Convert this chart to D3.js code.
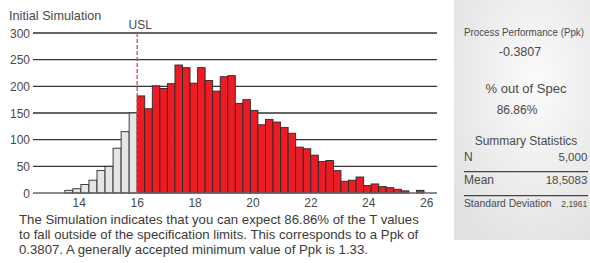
<!DOCTYPE html>
<html>
<head>
<meta charset="utf-8">
<script src="https://cdnjs.cloudflare.com/ajax/libs/d3/7.8.5/d3.min.js"></script>
<style>
  body { margin: 0; background: #fff; }
  svg { display: block; font-family: "Liberation Sans", Arial, sans-serif; }
</style>
</head>
<body>
<svg id="canvas" width="590" height="263"></svg>
<script>

// histogram counts
var lowBinStart = 13.5;      // bins inside spec (below USL)
var lowBinWidth = 2.5 / 9;
var lowCounts = [5, 8, 16, 24, 42, 50, 84, 115, 150];

var highBinStart = 16;       // bins outside spec (above USL)
var highBinWidth = 0.2607;
var highCounts = [182, 158, 201, 196, 205, 240, 235, 206, 235, 211,
                  191, 218, 220, 168, 175, 155, 128, 138, 133, 123,
                  112, 86, 83, 71, 59, 61, 42, 22, 24, 30,
                  14, 17, 12, 10, 7, 4, 0, 5];

var usl = 16;
var xTicks = [14, 16, 18, 20, 22, 24, 26];
var yTicks = [0, 50, 100, 150, 200, 250, 300];

var noteLines = [
  "The Simulation indicates that you can expect 86.86% of the T values",
  "to fall outside of the specification limits. This corresponds to a Ppk of",
  "0.3807. A generally accepted minimum value of Ppk is 1.33."
];

var ppkLabel = "Process Performance (Ppk)";
var ppkValue = "-0.3807";
var oosLabel = "% out of Spec";
var oosValue = "86.86%";
var statsTitle = "Summary Statistics";
var statNames = ["N", "Mean", "Standard Deviation"];
var statValues = ["5,000", "18,5083", "2,1961"];

var svg = d3.select("#canvas");
var textColor = "#4a4a4a";

var x = d3.scaleLinear().domain([14, 26]).range([79.3, 426.7]);
var y = d3.scaleLinear().domain([0, 300]).range([193, 33]);

// build bin objects from the two count lists
var bins = lowCounts.map(function(c, i) {
  return {x0: lowBinStart + i * lowBinWidth, x1: lowBinStart + (i + 1) * lowBinWidth, n: c, out: false};
}).concat(highCounts.map(function(c, i) {
  return {x0: highBinStart + i * highBinWidth, x1: highBinStart + (i + 1) * highBinWidth, n: c, out: true};
}));

// right panel background
var grad = svg.append("defs").append("radialGradient")
    .attr("id", "panelGrad")
    .attr("cx", "60%").attr("cy", "35%").attr("r", "75%");
grad.append("stop").attr("offset", "0%").attr("stop-color", "#fbfbfb");
grad.append("stop").attr("offset", "100%").attr("stop-color", "#e2e2e2");

svg.append("rect")
    .attr("x", 454).attr("y", 0)
    .attr("width", 136).attr("height", 240)
    .style("fill", "url(#panelGrad)");

// title
svg.append("text")
    .text("Initial Simulation")
    .attr("x", 9).attr("y", 19.5)
    .style("font-size", "12.7px")
    .style("fill", textColor);

// gridlines
svg.append("g").selectAll("line")
    .data(yTicks.filter(function(d){ return d > 0; }))
    .enter().append("line")
    .attr("x1", 33).attr("x2", 437)
    .attr("y1", function(d){ return y(d); })
    .attr("y2", function(d){ return y(d); })
    .style("stroke", "#333")
    .style("stroke-width", 1.3);

// y axis labels
svg.append("g").selectAll("text")
    .data(yTicks)
    .enter().append("text")
    .text(function(d){ return d; })
    .attr("x", 30)
    .attr("y", function(d){ return y(d) + 4.5; })
    .attr("text-anchor", "end")
    .style("font-size", "12px")
    .style("fill", textColor);

// bars
svg.append("g").selectAll("rect")
    .data(bins)
    .enter().append("rect")
    .attr("x", function(d){ return x(d.x0); })
    .attr("width", function(d){ return x(d.x1) - x(d.x0); })
    .attr("y", function(d){ return y(d.n); })
    .attr("height", function(d){ return y(0) - y(d.n); })
    .style("fill", function(d){ return d.out ? "#ed1c24" : "#e4e5e7"; })
    .style("stroke", function(d){ return d.n > 0 ? "#2a2a2a" : "none"; })
    .style("stroke-width", 0.9);

// baseline
svg.append("line")
    .attr("x1", 33).attr("x2", 437)
    .attr("y1", y(0)).attr("y2", y(0))
    .style("stroke", "#666")
    .style("stroke-width", 1.3);

// x axis labels
svg.append("g").selectAll("text")
    .data(xTicks)
    .enter().append("text")
    .text(function(d){ return d; })
    .attr("x", function(d){ return x(d); })
    .attr("y", 206.5)
    .attr("text-anchor", "middle")
    .style("font-size", "12px")
    .style("fill", textColor);

// USL marker
svg.append("line")
    .attr("x1", x(usl)).attr("x2", x(usl))
    .attr("y1", 33).attr("y2", y(0))
    .style("stroke", "#e8404a")
    .style("stroke-width", 1.3)
    .style("stroke-dasharray", "4,2");

svg.append("text")
    .text("USL")
    .attr("x", x(usl) + 3).attr("y", 29)
    .attr("text-anchor", "middle")
    .style("font-size", "12px")
    .style("fill", textColor);

// note under the chart
svg.append("g").selectAll("text")
    .data(noteLines)
    .enter().append("text")
    .text(function(d){ return d; })
    .attr("x", 19)
    .attr("y", function(d, i){ return 223.5 + i * 15.4; })
    .style("font-size", "13.2px")
    .style("fill", "#3a3a3a");

// panel texts
var panel = svg.append("g").style("fill", textColor);

panel.append("text").text(ppkLabel)
    .attr("x", 464).attr("y", 36)
    .attr("textLength", 120).attr("lengthAdjust", "spacingAndGlyphs")
    .style("font-size", "10px");

panel.append("text").text(ppkValue)
    .attr("x", 520).attr("y", 56)
    .attr("text-anchor", "middle")
    .style("font-size", "12.5px");

panel.append("text").text(oosLabel)
    .attr("x", 526).attr("y", 92.5)
    .attr("text-anchor", "middle")
    .style("font-size", "13px");

panel.append("text").text(oosValue)
    .attr("x", 517).attr("y", 114)
    .attr("text-anchor", "middle")
    .style("font-size", "12px");

panel.append("text").text(statsTitle)
    .attr("x", 526).attr("y", 145)
    .attr("text-anchor", "middle")
    .style("font-size", "12px");

var rowY = [160.7, 184, 207];

panel.selectAll(".statname")
    .data(statNames)
    .enter().append("text")
    .attr("class", "statname")
    .text(function(d){ return d; })
    .attr("x", 464)
    .attr("y", function(d, i){ return rowY[i]; })
    .style("font-size", function(d, i){ return i == 2 ? "10.3px" : "12px"; });

panel.selectAll(".statvalue")
    .data(statValues)
    .enter().append("text")
    .attr("class", "statvalue")
    .text(function(d){ return d; })
    .attr("x", 587.3)
    .attr("y", function(d, i){ return rowY[i]; })
    .attr("text-anchor", "end")
    .style("font-size", function(d, i){ return i == 2 ? "8.5px" : "11.5px"; });

// separator lines between stat rows
panel.selectAll(".sep")
    .data([171.7, 195.7])
    .enter().append("line")
    .attr("class", "sep")
    .attr("x1", 464).attr("x2", 588)
    .attr("y1", function(d){ return d; })
    .attr("y2", function(d){ return d; })
    .style("stroke", "#444")
    .style("stroke-width", 1.2);

</script>
</body>
</html>
